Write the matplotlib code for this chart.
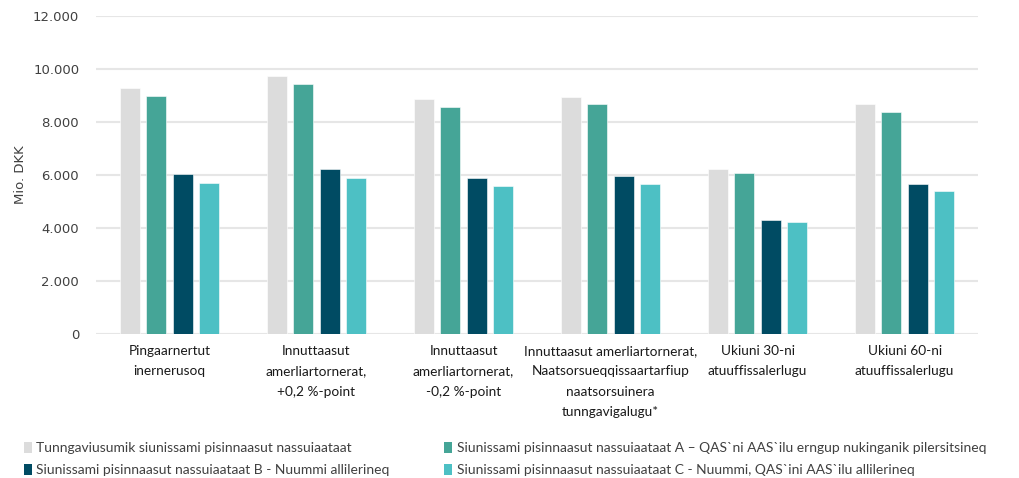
import matplotlib
matplotlib.use("Agg")
import matplotlib.pyplot as plt
import numpy as np
from matplotlib.patches import Patch

categories = [
    "Pingaarnertut\ninernerusoq",
    "Innuttaasut\namerliartornerat,\n+0,2 %-point",
    "Innuttaasut\namerliartornerat,\n-0,2 %-point",
    "Innuttaasut amerliartornerat,\nNaatsorsueqqissaartarfiup\nnaatsorsuinera\ntunngavigalugu*",
    "Ukiuni 30-ni\natuuffissalerlugu",
    "Ukiuni 60-ni\natuuffissalerlugu",
]
series_names = [
    "Tunngaviusumik siunissami pisinnaasut nassuiaataat",
    "Siunissami pisinnaasut nassuiaataat A – QAS`ni AAS`ilu erngup nukinganik pilersitsineq",
    "Siunissami pisinnaasut nassuiaataat B - Nuummi allilerineq",
    "Siunissami pisinnaasut nassuiaataat C - Nuummi, QAS`ini AAS`ilu allilerineq",
]
base = [9270, 9730, 8850, 8930, 6230, 8660]
scen_a = [8980, 9420, 8560, 8660, 6080, 8370]
scen_b = [6030, 6230, 5870, 5960, 4300, 5650]
scen_c = [5700, 5890, 5560, 5650, 4200, 5400]
yticks = [0, 2000, 4000, 6000, 8000, 10000, 12000]
ytick_labels = ["0", "2.000", "4.000", "6.000", "8.000", "10.000", "12.000"]

colors = ["#DCDCDC", "#45A597", "#004B63", "#4DC0C4"]
series = [base, scen_a, scen_b, scen_c]

fig = plt.figure(figsize=(10.2, 4.78), dpi=100)
ax = fig.add_axes([0.094, 0.302, 0.865, 0.6645])

x = np.arange(len(categories))
pitch = 0.18
width = 0.136
for i, (vals, c) in enumerate(zip(series, colors)):
    ax.bar(x + (i - 1.5) * pitch, vals, width=width, color=c,
           edgecolor="white", linewidth=0.4, zorder=3)

ax.set_xlim(-0.5, len(categories) - 0.5)
ax.set_ylim(0, 12000)
ax.set_yticks(yticks)
ax.set_yticklabels(ytick_labels, fontsize=9.5, color="#404040")
ax.set_xticks(x)
ax.set_xticklabels(categories, fontsize=9.8, color="#1a1a1a",
                   family=["Lato", "DejaVu Sans"], linespacing=1.85, va="top")
ax.tick_params(axis="both", length=0)
ax.tick_params(axis="x", pad=8)
ax.tick_params(axis="y", pad=12)
ax.grid(axis="y", color="#E6E6E6", linewidth=1.5, zorder=0)
for s in ax.spines.values():
    s.set_visible(False)
ax.set_ylabel("Mio. DKK", fontsize=9.5, color="#404040", labelpad=4)

handles = [Patch(facecolor=c, edgecolor="none") for c in colors]
leg_kw = dict(frameon=False, handlelength=0.55, handleheight=0.85,
              handletextpad=0.35, labelspacing=0.7, borderaxespad=0,
              prop={"family": ["Lato", "DejaVu Sans"], "size": 10})
fig.legend([handles[0], handles[2]], [series_names[0], series_names[2]],
           loc="upper left", bbox_to_anchor=(0.018, 0.087), **leg_kw)
fig.legend([handles[1], handles[3]], [series_names[1], series_names[3]],
           loc="upper left", bbox_to_anchor=(0.43, 0.087), **leg_kw)
for t in fig.legends[0].get_texts() + fig.legends[1].get_texts():
    t.set_color("#404040")

fig.savefig("out.png", dpi=100)
